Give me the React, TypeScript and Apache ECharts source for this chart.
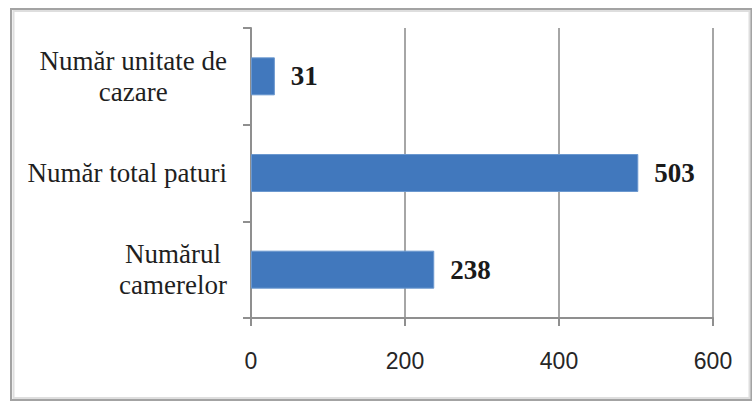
import React, { useEffect, useRef } from "react";
import * as echarts from "echarts";

const categories = ["Număr unitate de\ncazare", "Număr total paturi", "Numărul\ncamerelor"];
const values = [31, 503, 238];
const xTicks = { min: 0, max: 600, interval: 200 };

export default function App() {
  const ref = useRef<HTMLDivElement>(null);
  useEffect(() => {
    if (!ref.current) return;
    const chart = echarts.init(ref.current, null, { renderer: "svg" });
    chart.setOption({
      animation: false,
      backgroundColor: "#ffffff",
      graphic: [
        {
          type: "rect",
          z: -10,
          silent: true,
          shape: { x: 11, y: 9, width: 740, height: 391 },
          style: { fill: "#ffffff", stroke: "#a3a3a3", lineWidth: 2 },
        },
        {
          type: "rect",
          z: -9,
          silent: true,
          shape: { x: 13.5, y: 11, width: 736, height: 387 },
          style: { fill: "none", stroke: "#dedede", lineWidth: 2 },
        },
      ],
      grid: { left: 251, right: 41, top: 28, bottom: 85, containLabel: false },
      xAxis: {
        type: "value",
        min: xTicks.min,
        max: xTicks.max,
        interval: xTicks.interval,
        axisLine: { show: true, lineStyle: { color: "#8f8f8f", width: 2 } },
        axisTick: { show: true, length: 8, lineStyle: { color: "#8f8f8f", width: 2 } },
        splitLine: { show: true, lineStyle: { color: "#a6a6a6", width: 2 } },
        axisLabel: {
          margin: 31,
          fontFamily: "Liberation Sans",
          fontSize: 23,
          color: "#262626",
        },
      },
      yAxis: {
        type: "category",
        inverse: true,
        data: categories,
        axisLine: { show: true, lineStyle: { color: "#8f8f8f", width: 2 } },
        axisTick: { show: true, length: 8, lineStyle: { color: "#8f8f8f", width: 2 } },
        splitLine: { show: false },
        axisLabel: {
          margin: 24,
          align: "right",
          formatter: (v: string) =>
            v
              .split("\n")
              .map((l) => `{c|${l}}`)
              .join("\n"),
          rich: {
            c: {
              align: "center",
              fontFamily: "Liberation Serif",
              fontSize: 27,
              lineHeight: 31,
              color: "#1f1f1f",
            },
          },
        },
      },
      series: [
        {
          type: "bar",
          data: values,
          barWidth: 38,
          itemStyle: { color: "#4178BD", borderColor: "#6b98cf", borderWidth: 1 },
          label: {
            show: true,
            position: "right",
            distance: 16,
            fontFamily: "Liberation Serif",
            fontWeight: "bold",
            fontSize: 27,
            color: "#1a1a1a",
          },
        },
      ],
    });
    return () => chart.dispose();
  }, []);
  return (
    <div
      ref={ref}
      style={{ position: "fixed", left: 0, top: 0, width: 754, height: 403 }}
    />
  );
}
